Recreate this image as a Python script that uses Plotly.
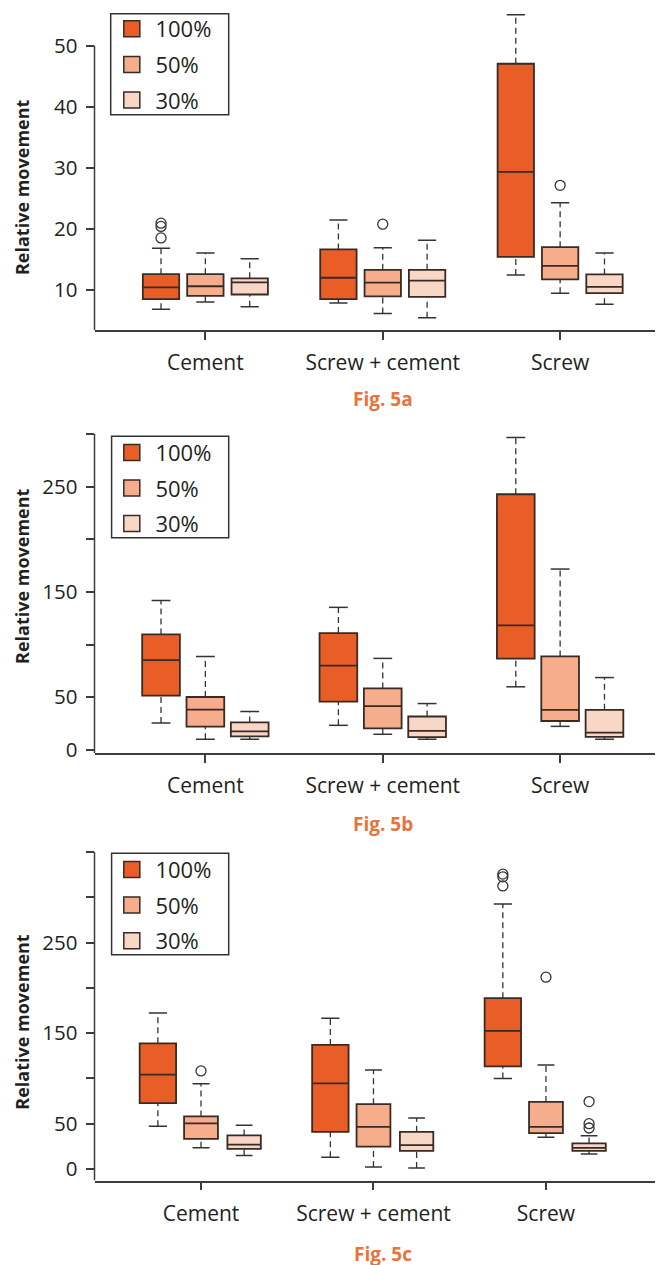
import plotly.graph_objects as go

# ---------------- data ----------------
categories = ["Cement", "Screw + cement", "Screw"]
levels = ["100%", "50%", "30%"]

# rows = levels (100%, 50%, 30%), cols = categories
A_Q1 = [[8.55, 8.55, 15.44], [9.09, 8.98, 11.77], [9.30, 8.92, 9.52]]
A_MED = [[10.48, 12.04, 29.35], [10.65, 11.24, 13.98], [11.29, 11.56, 10.54]]
A_Q3 = [[12.63, 16.67, 47.04], [12.63, 13.33, 17.04], [11.94, 13.33, 12.58]]
A_LO = [[6.88, 7.90, 12.48], [8.06, 6.18, 9.52], [7.31, 5.48, 7.69]]
A_HI = [[16.88, 21.50, 55.07], [16.08, 16.94, 24.30], [15.16, 18.17, 16.08]]
A_OUT = [[[20.97, 20.43, 18.55], [], []], [[], [20.8], [27.15]], [[], [], []]]

B_Q1 = [[51.4, 45.7, 86.5], [21.9, 20.4, 27.3], [12.8, 11.9, 12.2]]
B_MED = [[85.2, 79.9, 118.1], [38.2, 41.4, 37.9], [17.5, 17.9, 16.3]]
B_Q3 = [[109.6, 110.9, 242.8], [50.1, 58.3, 88.7], [26.0, 31.6, 37.9]]
B_LO = [[25.4, 23.2, 59.8], [10.0, 14.7, 22.2], [10.0, 10.0, 10.0]]
B_HI = [[141.9, 135.3, 296.7], [88.7, 86.8, 171.7], [36.3, 43.9, 68.6]]
B_OUT = [[[], [], []], [[], [], []], [[], [], []]]

C_Q1 = [[72.7, 41.1, 113.4], [33.4, 24.7, 39.6], [22.2, 20.0, 20.0]]
C_MED = [[104.3, 94.5, 152.6], [50.5, 46.5, 46.5], [26.9, 26.5, 23.3]]
C_Q3 = [[138.8, 137.0, 188.6], [58.1, 71.6, 74.1], [37.1, 41.1, 28.3]]
C_LO = [[47.2, 13.1, 99.9], [23.6, 2.2, 35.2], [14.9, 1.1, 16.7]]
C_HI = [[172.2, 166.4, 292.5], [94.1, 109.4, 114.8], [48.3, 56.3, 36.7]]
C_OUT = [[[], [], [325.5, 322.5, 312.5]], [[108.3], [], [211.8]], [[], [], [74.5, 50.1, 45.3]]]

A_TICKS = [10, 20, 30, 40, 50]
A_TICKTEXT = ["10", "20", "30", "40", "50"]
B_TICKS = [0, 50, 100, 150, 200, 250, 300]
B_TICKTEXT = ["0", "50", "", "150", "", "250", ""]
C_TICKS = [0, 50, 100, 150, 200, 250, 300, 350]
C_TICKTEXT = ["0", "50", "", "150", "", "250", "", ""]

FIG_LABELS = ["Fig. 5a", "Fig. 5b", "Fig. 5c"]
Y_TITLE = "Relative movement"

# ---------------- style ----------------
W, H = 663, 1265
FILLS = ["#E95E27", "#F5AD8C", "#F9D7C7"]
EDGE = "#3a2a24"
AXC = "#3c3c3c"
TXT = "#231f20"
ORANGE = "#E8743B"
FONT = "Open Sans"

CAT_POS = [3, 7, 11]
LEVEL_OFF = [-1, 0, 1]


def py(px):
    return 1 - px / H


panels = [
    dict(q1=A_Q1, med=A_MED, q3=A_Q3, lo=A_LO, hi=A_HI, out=A_OUT,
         ticks=A_TICKS, ticktext=A_TICKTEXT, yrange=[3.47, 55.5],
         ydom=[py(321.7), py(0)], xrange=[0.5, 13.5], widths=[0.82, 0.82, 0.82],
         legend_top=-4.0, box=[102.7, 1.7, 220.7, 104], title_y=177, fig_y=391.5),
    dict(q1=B_Q1, med=B_MED, q3=B_Q3, lo=B_LO, hi=B_HI, out=B_OUT,
         ticks=B_TICKS, ticktext=B_TICKTEXT, yrange=[-3.1, 301],
         ydom=[py(749.3), py(425.7)], xrange=[0.5, 13.5], widths=[0.85, 0.85, 0.85],
         legend_top=424.3, box=[103.6, 429, 220.7, 531.7], title_y=570.3, fig_y=821.5),
    dict(q1=C_Q1, med=C_MED, q3=C_Q3, lo=C_LO, hi=C_HI, out=C_OUT,
         ticks=C_TICKS, ticktext=C_TICKTEXT, yrange=[-12.77, 351],
         ydom=[py(1181.7), py(848.4)], xrange=[0.53, 13.9], widths=[0.845, 0.785, 0.775],
         legend_top=846.0, box=[103.6, 850.7, 220.7, 953.3], title_y=1021, fig_y=1255.5),
]

fig = go.Figure()
shapes = []
annotations = []
layout_axes = {}

for pi, p in enumerate(panels):
    sfx = "" if pi == 0 else str(pi + 1)
    xa, ya = "x" + sfx, "y" + sfx
    legname = "legend" + sfx

    for li in range(3):
        xs = [c + LEVEL_OFF[li] for c in CAT_POS]
        w = p["widths"][li]
        # box (fences collapsed to the quartiles; whiskers drawn dashed below)
        fig.add_trace(go.Box(
            x=xs, q1=p["q1"][li], median=p["med"][li], q3=p["q3"][li],
            lowerfence=p["q1"][li], upperfence=p["q3"][li],
            width=w, fillcolor=FILLS[li], line=dict(color=EDGE, width=1.8),
            boxpoints=False, showlegend=False, hoverinfo="skip",
            xaxis=xa, yaxis=ya))
        # dashed whiskers and solid staples
        wx, wy = [], []
        cx, cy = [], []
        for ci, x in enumerate(xs):
            wx += [x, x, None, x, x, None]
            wy += [p["q3"][li][ci], p["hi"][li][ci], None,
                   p["lo"][li][ci], p["q1"][li][ci], None]
            hw = w * 0.25
            cx += [x - hw, x + hw, None, x - hw, x + hw, None]
            cy += [p["hi"][li][ci], p["hi"][li][ci], None,
                   p["lo"][li][ci], p["lo"][li][ci], None]
        fig.add_trace(go.Scatter(x=wx, y=wy, mode="lines",
                                 line=dict(color="#333333", width=1.3, dash="6px,4px"),
                                 showlegend=False, hoverinfo="skip", xaxis=xa, yaxis=ya))
        fig.add_trace(go.Scatter(x=cx, y=cy, mode="lines",
                                 line=dict(color="#333333", width=1.5),
                                 showlegend=False, hoverinfo="skip", xaxis=xa, yaxis=ya))
        # outliers
        ox, oy = [], []
        for ci, x in enumerate(xs):
            for v in p["out"][li][ci]:
                ox.append(x)
                oy.append(v)
        if ox:
            fig.add_trace(go.Scatter(x=ox, y=oy, mode="markers",
                                     marker=dict(symbol="circle-open", size=10, color="#333333",
                                                 line=dict(width=1.3)),
                                     showlegend=False, hoverinfo="skip", xaxis=xa, yaxis=ya))
        # legend entry
        fig.add_trace(go.Scatter(x=[None], y=[None], mode="markers",
                                 name="\u2009" + levels[li],
                                 marker=dict(symbol="square", size=17, color=FILLS[li],
                                             line=dict(color=EDGE, width=1.5)),
                                 legend=legname, legendgroup=f"{pi}-{li}",
                                 xaxis=xa, yaxis=ya))

    layout_axes["xaxis" + sfx] = dict(
        domain=[86.5 / W, 1], range=p["xrange"], anchor=ya,
        tickmode="array", tickvals=CAT_POS, ticktext=categories,
        ticks="outside", ticklen=8, tickwidth=1.5, tickcolor=AXC,
        showline=True, linecolor=AXC, linewidth=1.5, showgrid=False, zeroline=False,
        tickfont=dict(family=FONT, size=21, color=TXT), ticklabelstandoff=5)
    layout_axes["yaxis" + sfx] = dict(
        domain=p["ydom"], range=p["yrange"], anchor=xa,
        tickmode="array", tickvals=p["ticks"], ticktext=p["ticktext"],
        ticks="outside", ticklen=8, tickwidth=1.5, tickcolor=AXC,
        showline=False, showgrid=False, zeroline=False,
        tickfont=dict(family=FONT, size=20.5, color=TXT), ticklabelstandoff=4)

    # left axis line from the bottom up to the top tick
    shapes.append(dict(type="line", xref=xa + " domain", yref=ya,
                       x0=0, x1=0, y0=p["yrange"][0], y1=max(p["ticks"]),
                       line=dict(color=AXC, width=1.5)))
    # legend frame
    bx0, by0, bx1, by1 = p["box"]
    shapes.append(dict(type="rect", xref="paper", yref="paper",
                       x0=bx0 / W, x1=bx1 / W, y0=py(by1), y1=py(by0),
                       line=dict(color="#333333", width=1.5), fillcolor="rgba(0,0,0,0)"))
    layout_axes[legname] = dict(
        x=103.8 / W, y=py(p["legend_top"]), xanchor="left", yanchor="top",
        bgcolor="rgba(0,0,0,0)", borderwidth=0, tracegroupgap=4,
        font=dict(family=FONT, size=22, color=TXT))

    annotations.append(dict(text=Y_TITLE, x=0, y=py(p["title_y"]),
                            xref="paper", yref="paper", showarrow=False, textangle=-90,
                            xanchor="left", yanchor="middle",
                            font=dict(family=FONT, size=18, color=TXT, weight="bold")))
    annotations.append(dict(text=FIG_LABELS[pi], x=374.5 / W, y=py(p["fig_y"]),
                            xref="paper", yref="paper", showarrow=False,
                            xanchor="center", yanchor="middle",
                            font=dict(family=FONT, size=19, color=ORANGE, weight="bold")))

fig.update_layout(
    width=W, height=H, margin=dict(l=0, r=0, t=0, b=0),
    paper_bgcolor="white", plot_bgcolor="white",
    boxmode="overlay", shapes=shapes, annotations=annotations,
    **layout_axes)

fig.write_html("out.html")
